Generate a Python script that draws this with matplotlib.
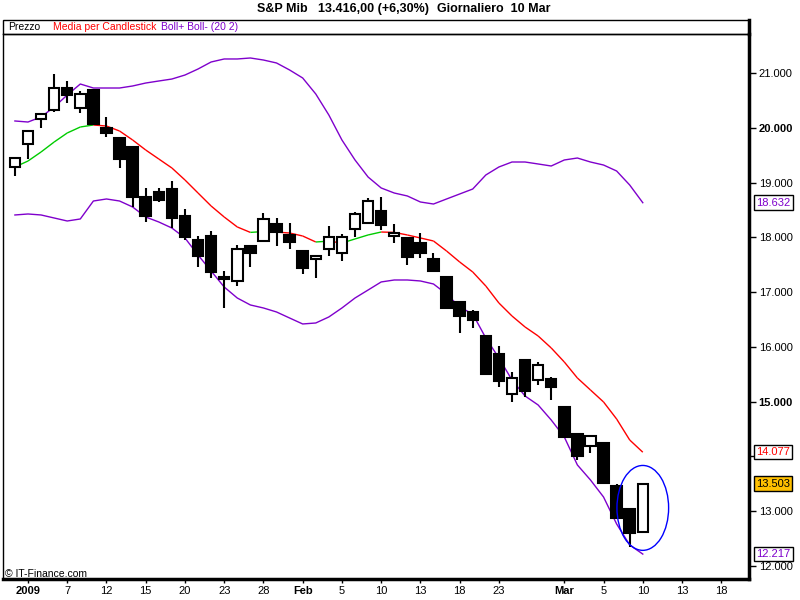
import numpy as np
import matplotlib
matplotlib.use('Agg')
import matplotlib.pyplot as plt
from matplotlib.patches import Rectangle, Ellipse
from matplotlib.collections import LineCollection

plt.rcParams['font.family'] = ['Liberation Sans', 'DejaVu Sans']

# ---------------------------------- data ---------------------------------- #
# trading day index, 0 = 2 Jan 2009 (first candle is 31 Dec 2008)
day_idx = list(range(-1, 48))

opens = [19280, 19700, 20160, 20330, 20730, 20360, 20690, 20000, 19810, 19650,
         18740, 18830, 18880, 18390, 17950, 18020, 17260, 17200, 17840, 17930,
         18240, 18040, 17750, 17600, 17790, 17710, 18150, 18260, 18480, 18020,
         17990, 17900, 17600, 17280, 16820, 16640, 16200, 15870, 15140, 15760,
         15400, 15410, 14900, 14410, 14190, 14250, 13460, 13040, 12620]
highs = [19450, 19940, 20250, 20980, 20850, 20670, 20690, 20200, 19810, 19650,
         18900, 18900, 19030, 18520, 18020, 18120, 17390, 17860, 17840, 18440,
         18350, 18260, 17750, 17680, 18210, 18060, 18460, 18720, 18740, 18240,
         17990, 18080, 17710, 17280, 16820, 16670, 16200, 16020, 15540, 15760,
         15720, 15450, 14900, 14410, 14370, 14250, 13500, 13040, 13503]
lows = [19120, 19430, 20000, 20290, 20450, 20270, 20070, 19830, 19270, 18550,
        18280, 18650, 18170, 17950, 17460, 17260, 16710, 17110, 17460, 17930,
        17840, 17790, 17330, 17260, 17660, 17570, 18010, 18240, 18130, 17900,
        17500, 17620, 17390, 16690, 16250, 16350, 15510, 15270, 14990, 15090,
        15300, 15030, 14360, 13940, 14060, 13500, 12880, 12350, 12620]
closes = [19450, 19940, 20250, 20730, 20600, 20620, 20070, 19910, 19430, 18740,
          18390, 18680, 18350, 18010, 17660, 17370, 17240, 17790, 17710, 18340,
          18100, 17920, 17440, 17660, 18010, 18010, 18430, 18660, 18230, 18080,
          17640, 17710, 17390, 16710, 16560, 16490, 15510, 15380, 15430, 15200,
          15670, 15270, 14360, 14010, 14370, 13520, 12880, 12600, 13503]

boll_up = [20124, 20105, 20197, 20379, 20598, 20799, 20726, 20726, 20726, 20763,
           20817, 20854, 20890, 20963, 21073, 21201, 21256, 21256, 21274, 21237,
           21183, 21055, 20909, 20617, 20233, 19777, 19412, 19101, 18901, 18809,
           18755, 18645, 18608, 18700, 18791, 18882, 19138, 19284, 19375, 19375,
           19339, 19302, 19412, 19448, 19375, 19320, 19211, 18955, 18632]
media = [19284, 19393, 19558, 19740, 19905, 20014, 20051, 20032, 19941, 19777,
         19594, 19430, 19266, 19047, 18809, 18572, 18371, 18189, 18090, 18105,
         18095, 18079, 18024, 17915, 17930, 17896, 17970, 18043, 18097, 18090,
         18043, 17988, 17933, 17750, 17550, 17367, 17111, 16801, 16564, 16363,
         16199, 15980, 15724, 15432, 15213, 14994, 14683, 14300, 14077]
boll_dn = [18408, 18426, 18408, 18353, 18298, 18335, 18663, 18700, 18663, 18554,
           18371, 18280, 18170, 17988, 17677, 17385, 17093, 16892, 16765, 16710,
           16637, 16527, 16418, 16436, 16546, 16710, 16892, 17038, 17185, 17221,
           17221, 17203, 17148, 16965, 16728, 16600, 16162, 15797, 15395, 15103,
           14939, 14665, 14355, 13844, 13570, 13259, 12767, 12383, 12217]

x_tick_pos = [0, 3, 6, 9, 12, 15, 18, 21, 24, 27, 30, 33, 36, 41, 44, 47, 50, 53]
x_tick_lab = ["2009", "7", "12", "15", "20", "23", "28", "Feb", "5", "10", "13",
              "18", "23", "Mar", "5", "10", "13", "18"]
y_ticks = [12000, 13000, 14000, 15000, 16000, 17000, 18000, 19000, 20000, 21000]

PURPLE = "#7F00CC"


def fmt(v):
    return f"{v:,.0f}".replace(",", ".")


# ---------------------------------- figure ---------------------------------- #
fig = plt.figure(figsize=(8, 6), dpi=100, facecolor="white")
ax = fig.add_axes([3 / 800, 1 - 579 / 600, 746 / 800, 545 / 600])

x = np.array(day_idx)

# bands
ax.plot(x, boll_up, color=PURPLE, lw=1.0, zorder=2)
ax.plot(x, boll_dn, color=PURPLE, lw=1.0, zorder=2)

# media: green when rising, red when falling
pts = np.column_stack([x, media])
segs = np.stack([pts[:-1], pts[1:]], axis=1)
cols = ["#00CC00" if b > a else "#FF0000" for a, b in zip(media[:-1], media[1:])]
ax.add_collection(LineCollection(segs, colors=cols, linewidths=1.0, zorder=2))

# candles
ax.vlines(x, lows, highs, color="black", lw=1.5, zorder=3)
for xi, o, c in zip(x, opens, closes):
    bottom = min(o, c)
    h = max(abs(c - o), 30)
    face = "white" if c > o else "black"
    ax.add_patch(Rectangle((xi - 0.4, bottom), 0.8, h, facecolor=face,
                           edgecolor="black", lw=1.5, zorder=4))

# highlight ellipse
ax.add_patch(Ellipse((47.0, 13060), 3.95, 1550, fill=False, edgecolor="#0000FF",
                     lw=1.0, zorder=5))

ax.set_xlim(-1.91, 55.12)
ax.set_ylim(11762, 21712)

# axes styling
for s in ["top", "left"]:
    ax.spines[s].set_linewidth(1.0)
ax.spines["right"].set_linewidth(2.5)
ax.spines["bottom"].set_linewidth(2.5)

ax.yaxis.tick_right()
ax.set_yticks(y_ticks)
# 14.000 is hidden behind the media value box
ax.set_yticklabels(["" if v == 14000 else fmt(v) for v in y_ticks])
ax.tick_params(axis="y", direction="out", length=5, width=1, labelsize=8, pad=2)
for lab in ax.get_yticklabels():
    if lab.get_text() in ("20.000", "15.000"):
        lab.set_fontweight("bold")

ax.set_xticks(x_tick_pos)
ax.set_xticklabels(x_tick_lab)
ax.tick_params(axis="x", direction="out", length=3, width=1, labelsize=8, pad=2)
for lab in ax.get_xticklabels():
    if lab.get_text() in ("2009", "Feb", "Mar"):
        lab.set_fontweight("bold")

# last value boxes on the price axis
tr = ax.get_yaxis_transform()
boxes = [(boll_up[-1], PURPLE, "white"), (media[-1], "#FF0000", "white"),
         (closes[-1], "black", "#FFC000"), (boll_dn[-1], PURPLE, "white")]
for v, tc, bg in boxes:
    ax.text(1.0325, v, fmt(v), transform=tr, ha="center", va="center", fontsize=8,
            color=tc, clip_on=False, zorder=10,
            bbox=dict(boxstyle="square,pad=0.2", facecolor=bg, edgecolor="black", lw=1))

# legend strip above the plot
fig.patches.append(Rectangle((3 / 800, 1 - 34 / 600), 746 / 800, 14 / 600,
                             transform=fig.transFigure, fill=False,
                             edgecolor="black", lw=1))
fig.add_artist(plt.Line2D([749 / 800, 749 / 800], [1 - 34 / 600, 1 - 20 / 600],
                          transform=fig.transFigure, color="black", lw=2.5))
fig.text(8 / 800, 1 - 27 / 600, "Prezzo", fontsize=7.5, va="center", color="black")
fig.text(53 / 800, 1 - 27 / 600, "Media per Candlestick", fontsize=7.5, va="center",
         color="#FF0000")
fig.text(161 / 800, 1 - 27 / 600, "Boll+ Boll- (20 2)", fontsize=7.5, va="center",
         color=PURPLE)

# title
fig.text(257 / 800, 1 - 9 / 600, "S&P Mib", fontsize=9, fontweight="bold", va="center")
fig.text(318 / 800, 1 - 9 / 600, "13.416,00 (+6,30%)", fontsize=9, fontweight="bold",
         va="center")
fig.text(437 / 800, 1 - 9 / 600, "Giornaliero  10 Mar", fontsize=9, fontweight="bold",
         va="center")

fig.text(5 / 800, 1 - 574 / 600, "\u00a9 IT-Finance.com", fontsize=7.5, va="center")

fig.savefig("out.png", dpi=100, facecolor="white")
